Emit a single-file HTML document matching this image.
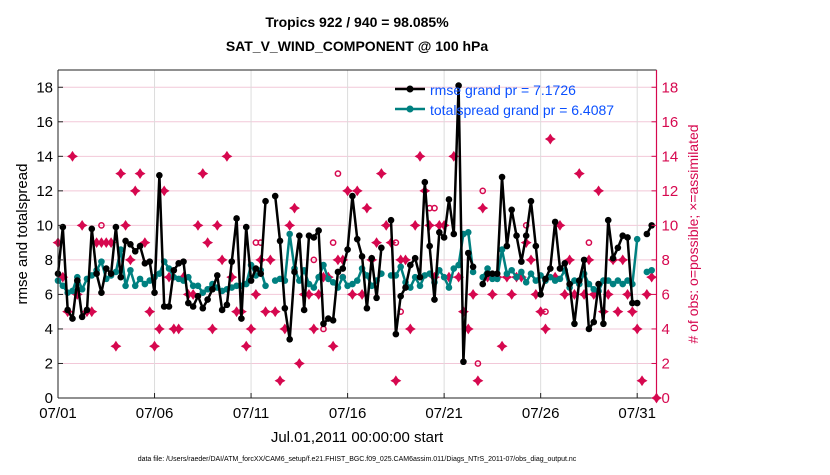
<!DOCTYPE html>
<html><head><meta charset="utf-8"><style>
body{margin:0;background:#fff;width:830px;height:470px;overflow:hidden;font-family:"Liberation Sans",sans-serif}
svg text{font-family:"Liberation Sans",sans-serif}
</style></head><body>
<svg id="chart" width="830" height="470" xmlns="http://www.w3.org/2000/svg">
<text x="357" y="27" text-anchor="middle" font-size="14" font-weight="bold">Tropics 922 / 940 = 98.085%</text>
<text x="357" y="51" text-anchor="middle" font-size="14" font-weight="bold">SAT_V_WIND_COMPONENT @ 100 hPa</text>
<g id="grid"></g>
<g id="marks"></g>
<g id="axes"></g>
<text transform="translate(27,234) rotate(-90)" text-anchor="middle" font-size="15">rmse and totalspread</text>
<text transform="translate(698,234) rotate(-90)" text-anchor="middle" font-size="14" fill="#d6084f"># of obs: o=possible; ×=assimilated</text>
<text x="357" y="442" text-anchor="middle" font-size="15">Jul.01,2011 00:00:00 start</text>
<text x="357" y="461" text-anchor="middle" font-size="7">data file: /Users/raeder/DAI/ATM_forcXX/CAM6_setup/f.e21.FHIST_BGC.f09_025.CAM6assim.011/Diags_NTrS_2011-07/obs_diag_output.nc</text>
<g>
<line x1="395" y1="89" x2="425" y2="89" stroke="#000" stroke-width="2.5"/><circle cx="410" cy="89" r="3.5" fill="#000"/>
<text x="430" y="95" font-size="14" fill="#0a50ff">rmse grand pr = 7.1726</text>
<line x1="395" y1="109" x2="425" y2="109" stroke="#008080" stroke-width="2.5"/><circle cx="410" cy="109" r="3.5" fill="#008080"/>
<text x="430" y="115" font-size="14" fill="#0a50ff">totalspread grand pr = 6.4087</text>
</g>
</svg>
<script>
const rmse=[7.2,9.9,5.1,4.6,6.8,4.7,5.1,9.8,7.2,6.1,7.5,7.2,9.9,7.0,9.1,8.9,8.5,8.8,7.8,7.9,6.1,12.9,5.3,5.3,7.4,7.8,7.9,5.5,5.3,5.9,5.2,5.7,6.3,7.1,5.1,5.4,7.9,10.4,4.6,9.9,6.8,7.5,7.2,11.4,
null,11.7,9.1,5.2,3.4,7.3,9.4,5.1,9.4,9.3,9.7,4.3,4.6,4.5,7.3,7.5,8.6,11.7,9.2,8.2,5.2,8.1,5.8,8.7,null,10.3,3.7,5.9,6.4,7.7,8.1,7.0,12.5,8.8,5.7,9.6,9.3,11.5,9.5,18.1,2.1,
8.4,7.6,null,6.6,7.2,7.2,7.2,12.8,8.8,10.9,9.4,7.9,9.4,11.4,8.8,6.0,6.9,7.5,10.2,7.5,7.8,6.6,4.3,6.8,8.0,4.0,4.4,6.6,4.3,10.3,8.1,8.7,9.4,9.3,5.5,5.5,null,9.5,10.0];
const spread=[6.8,6.5,6.1,6.2,7.0,6.3,6.9,7.1,7.4,7.9,6.9,7.1,7.3,8.6,6.5,7.4,6.5,6.9,6.6,6.8,7.0,7.2,7.9,7.5,7.0,6.9,6.8,7.0,6.5,6.5,6.1,6.3,6.6,6.4,6.2,6.3,6.4,6.5,6.5,6.6,7.7,7.1,7.4,6.5,
null,6.8,6.9,6.8,9.5,7.5,6.8,7.4,6.6,6.4,7.0,7.7,6.9,6.7,6.4,7.0,6.5,6.6,6.8,7.5,7.1,6.5,6.8,7.2,null,7.1,7.1,7.6,6.7,6.4,7.0,6.5,7.1,7.2,6.7,7.4,7.0,6.4,7.5,7.7,9.5,
9.6,7.3,null,7.0,7.5,6.9,6.9,8.6,7.2,7.4,7.0,7.3,6.7,7.2,6.8,7.1,6.8,7.0,6.8,6.9,7.4,6.4,6.8,6.6,7.2,6.6,6.3,6.2,6.8,6.8,6.6,6.8,6.6,6.8,6.6,9.2,null,7.3,7.4];
const nUsed=[9,7,5,14,6,10,5,5,9,9,9,9,3,13,10,8,12,13,9,5,3,4,12,7,4,4,7,6,6,10,13,9,4,10,8,14,7,5,5,3,4,6,8,5,
8,5,1,4,10,11,2,6,6,4,6,7,7,3,8,8,12,6,12,6,11,8,9,13,10,9,1,8,8,4,10,14,12,10,7,10,10,7,14,7,5,
4,6,1,11,7,6,7,3,7,6,7,7,9,8,6,5,4,15,7,10,6,8,6,13,6,8,6,12,5,6,8,5,8,6,5,4,1,6,7,0];
const possIdx=[9,41,42,53,55,57,58,59,70,71,77,78,87,88,97,101,110,115];
const possVal=[10,9,9,8,4,9,13,7,9,5,11,11,2,12,10,5,9,8];
const xTickDays=[0,5,10,15,20,25,30];
const xTickLabels=['07/01','07/06','07/11','07/16','07/21','07/26','07/31'];
const yTicks=[0,2,4,6,8,10,12,14,16,18];
const stepDays=0.25;

const X0=58,X1=656.5,Y0=398,Y1=70,DMAX=31,VMAX=19;
const xs=d=>X0+(X1-X0)*d/DMAX;
const ys=v=>Y0-(Y0-Y1)*v/VMAX;
const NS='http://www.w3.org/2000/svg';
function mk(tag,at,parent){const e=document.createElementNS(NS,tag);for(const k in at)e.setAttribute(k,at[k]);parent.appendChild(e);return e;}
const grid=document.getElementById('grid'),marks=document.getElementById('marks'),axes=document.getElementById('axes');
const RED='#d6084f';
yTicks.forEach(v=>{if(v===0)return;const l=mk('line',{x1:X0,x2:X1,y1:ys(v),y2:ys(v),stroke:'#f2c8d8','stroke-width':1},grid);

});
xTickDays.forEach(d=>{if(d===0)return;const l=mk('line',{x1:xs(d),x2:xs(d),y1:Y0,y2:Y1,stroke:'#dcdcdc','stroke-width':1},grid);

});
// obs
nUsed.forEach((v,i)=>{const cx=xs(i*stepDays),cy=ys(v);
const g=mk('path',{d:`M${cx},${cy-4.5}L${cx+2},${cy-1.5}L${cx+4.5},${cy}L${cx+2},${cy+1.5}L${cx},${cy+4.5}L${cx-2},${cy+1.5}L${cx-4.5},${cy}L${cx-2},${cy-1.5}Z`,fill:RED,stroke:RED,'stroke-width':1},marks);

});
possIdx.forEach((idx,k)=>{const c=mk('circle',{cx:xs(idx*stepDays),cy:ys(possVal[k]),r:2.6,fill:'none',stroke:RED,'stroke-width':1.5},marks);

});
function series(arr,color,name){let d='',pen=false;
arr.forEach((v,i)=>{if(v===null){pen=false;return;}d+=(pen?'L':'M')+xs(i*stepDays).toFixed(1)+','+ys(v).toFixed(1);pen=true;});
const p=mk('path',{d:d,fill:'none',stroke:color,'stroke-width':2.5,'stroke-linejoin':'round'},marks);


arr.forEach((v,i)=>{if(v===null)return;const c=mk('circle',{cx:xs(i*stepDays),cy:ys(v),r:3.3,fill:color},marks);

});}
series(spread,'#008080','totalspread');
series(rmse,'#000000','rmse');
// axes
mk('line',{x1:X0,x2:X1,y1:Y1,y2:Y1,stroke:'#222','stroke-width':1},axes);
mk('line',{x1:X0,x2:X1,y1:Y0,y2:Y0,stroke:'#222','stroke-width':1},axes);
mk('line',{x1:X0,x2:X0,y1:Y0,y2:Y1,stroke:'#222','stroke-width':1},axes);
mk('line',{x1:X1,x2:X1,y1:Y0,y2:Y1,stroke:RED,'stroke-width':1.2},axes);
yTicks.forEach(v=>{const y=ys(v);
mk('line',{x1:X0,x2:X0+5,y1:y,y2:y,stroke:'#222'},axes);
mk('line',{x1:X1-5,x2:X1,y1:y,y2:y,stroke:RED},axes);
const t=mk('text',{x:X0-5,y:y+5,'text-anchor':'end','font-size':15},axes);t.textContent=v;


const t2=mk('text',{x:X1+5,y:y+5,'font-size':15,fill:RED},axes);t2.textContent=v;

});
xTickDays.forEach((d,k)=>{const x=xs(d);
mk('line',{x1:x,x2:x,y1:Y0,y2:Y0-5,stroke:'#222'},axes);
const t=mk('text',{x:x,y:Y0+20,'text-anchor':'middle','font-size':15},axes);t.textContent=xTickLabels[k];

});
</script>
</body></html>
